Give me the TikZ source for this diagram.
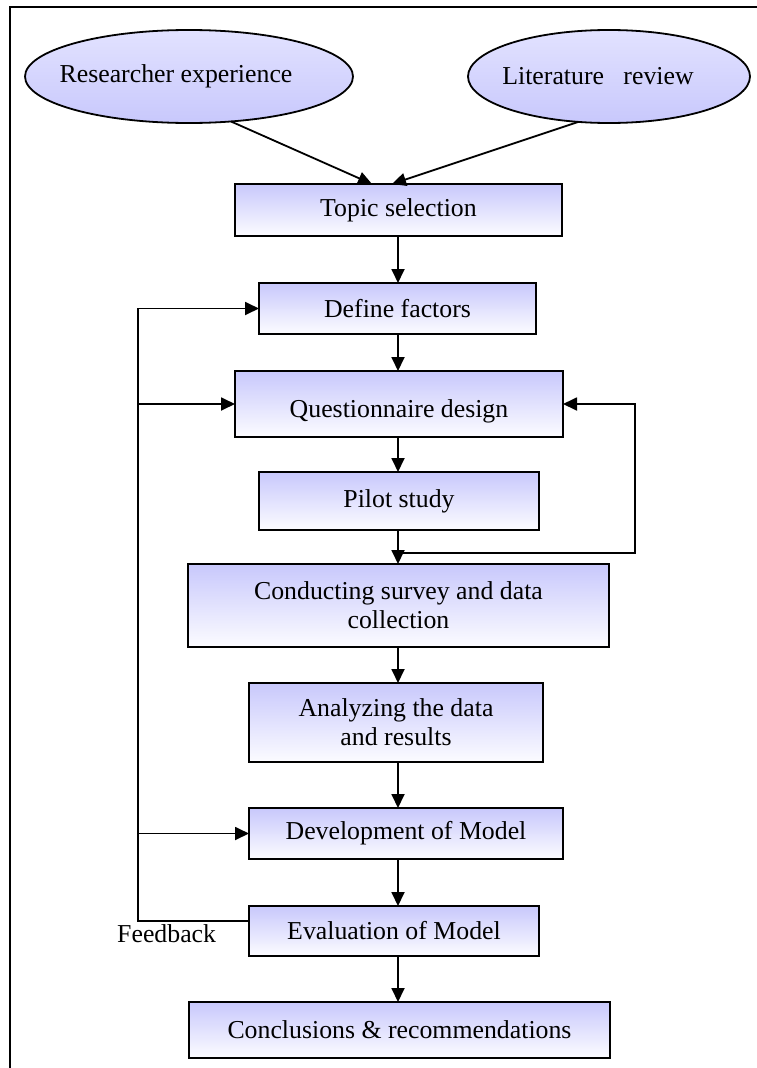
\documentclass[tikz,border=0pt]{standalone}
\usepackage{fontspec}
\setmainfont{Liberation Serif}
\usetikzlibrary{arrows.meta,calc,shapes.geometric}

\definecolor{lav}{RGB}{200,200,252}
\definecolor{lavlight}{RGB}{226,226,255}
\definecolor{paleend}{RGB}{252,252,255}

\tikzset{
  txt/.style={font=\fontsize{25.8}{29}\selectfont, text=black},
  stepbox/.style={txt, draw=black, line width=2.2pt, rectangle, inner sep=0pt, outer sep=0pt,
    top color=lav, bottom color=paleend, align=center},
  source/.style={draw=black, line width=1.8pt, ellipse, inner sep=0pt, outer sep=0pt,
    top color=lavlight, bottom color=lav},
  link/.style={line width=1.8pt, draw=black},
  arr/.style={link, -{Triangle[length=14pt,width=13pt]}}
}

\begin{document}
\begin{tikzpicture}[x=1pt,y=-1pt]
\useasboundingbox (0,0) rectangle (757,1068);

% page frame (top and left rules)
\draw[line width=2pt] (10,1068) -- (10,7) -- (757,7);

% input sources
\node[source, minimum width=328pt, minimum height=93pt] (exp) at (189,76.5) {};
\node[source, minimum width=282pt, minimum height=93pt] (lit) at (609,76.5) {};
\node[txt, inner sep=0pt] (exptext) at ($(exp.center)+(-13,0)$) {Researcher experience};
\node[txt, inner sep=0pt] (littext) at ($(lit.center)+(-11,0)$) {Literature\ \ \ review};

% process steps
\node[stepbox, minimum width=327pt, minimum height=52pt] (topic)   at (398.5,210)   {Topic selection};
\node[stepbox, minimum width=277pt, minimum height=51pt] (define)  at (397.5,308.5) {Define factors};
\node[stepbox, minimum width=328pt, minimum height=66pt, text height=33pt, text depth=5.6pt] (quest) at (399,404) {Questionnaire design};
\node[stepbox, minimum width=280pt, minimum height=58pt] (pilot)   at (399,501)     {Pilot study};
\node[stepbox, minimum width=421pt, minimum height=83pt] (survey)  at (398.5,605.5) {Conducting survey and data\\collection};
\node[stepbox, minimum width=294pt, minimum height=79pt] (analyze) at (396,722.5)   {Analyzing the data\\and results};
\node[stepbox, minimum width=314pt, minimum height=51pt] (develop) at (406,833.5)   {Development of Model};
\node[stepbox, minimum width=290pt, minimum height=50pt] (eval)    at (394,931)     {Evaluation of Model};
\node[stepbox, minimum width=421pt, minimum height=56pt] (concl)   at (399.5,1030)  {Conclusions \& recommendations};

% helper coordinates
\coordinate (spine) at (398,0);
\coordinate (tin1) at (372,184);
\coordinate (tin2) at (392,184);
\coordinate (split) at (398,553);
\coordinate (rloop) at (635,553);
\coordinate (fbk) at (138,921);
\coordinate (fq) at (138,404);
\coordinate (fd) at (138,833.5);

% sources into topic selection
\draw[arr] (exp.-47) -- (tin1);
\draw[arr] (lit.-124) -- (tin2);

% main downward flow
\draw[arr] (topic.south -| spine) -- (define.north -| spine);
\draw[arr] (define.south -| spine) -- (quest.north -| spine);
\draw[arr] (quest.south -| spine) -- (pilot.north -| spine);
\draw[link] (pilot.south -| spine) -- (split);
\draw[arr] (split) -- (survey.north -| spine);
\draw[arr] (survey.south -| spine) -- (analyze.north -| spine);
\draw[arr] (analyze.south -| spine) -- (develop.north -| spine);
\draw[arr] (develop.south -| spine) -- (eval.north -| spine);
\draw[arr] (eval.south -| spine) -- (concl.north -| spine);

% pilot loop back to questionnaire design
\draw[arr] (split) -- (rloop) |- (quest.east);

% feedback loop
\draw[arr] (eval.west |- fbk) -- (fbk) |- (define.west);
\draw[arr] (fq) -- (quest.west);
\draw[arr] (fd) -- (develop.west);
\node[txt, anchor=base west, inner sep=0pt] (fbtext) at (117,942) {Feedback};
\end{tikzpicture}
\end{document}
